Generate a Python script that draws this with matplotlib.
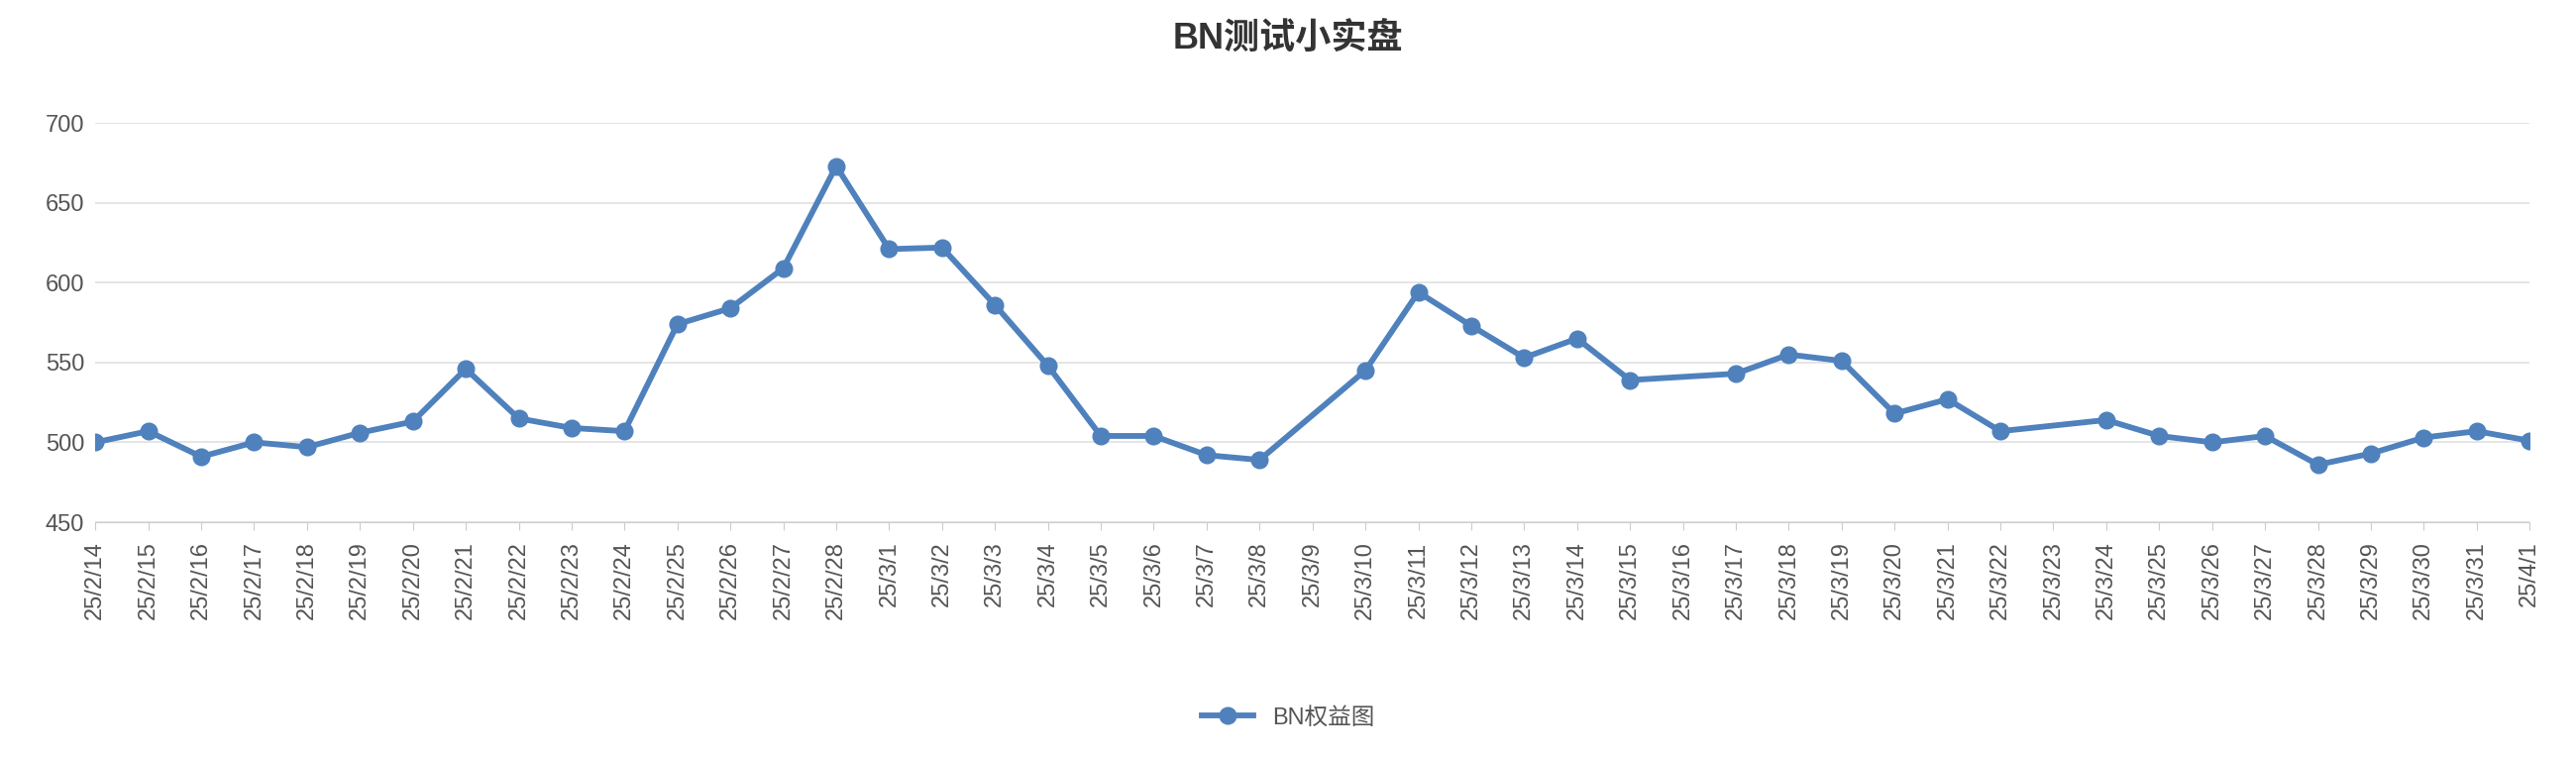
import numpy as np
import matplotlib.pyplot as plt

plt.rcParams['font.family'] = ['Liberation Sans', 'Noto Sans CJK SC', 'DejaVu Sans']

dates = ['25/2/14', '25/2/15', '25/2/16', '25/2/17', '25/2/18', '25/2/19', '25/2/20', '25/2/21',
         '25/2/22', '25/2/23', '25/2/24', '25/2/25', '25/2/26', '25/2/27', '25/2/28', '25/3/1',
         '25/3/2', '25/3/3', '25/3/4', '25/3/5', '25/3/6', '25/3/7', '25/3/8', '25/3/9',
         '25/3/10', '25/3/11', '25/3/12', '25/3/13', '25/3/14', '25/3/15', '25/3/16', '25/3/17',
         '25/3/18', '25/3/19', '25/3/20', '25/3/21', '25/3/22', '25/3/23', '25/3/24', '25/3/25',
         '25/3/26', '25/3/27', '25/3/28', '25/3/29', '25/3/30', '25/3/31', '25/4/1']
equity = [500, 507, 491, 500, 497, 506, 513, 546, 515, 509, 507, 574, 584, 609, 673, 621,
          622, 586, 548, 504, 504, 492, 489, None, 545, 594, 573, 553, 565, 539, None, 543,
          555, 551, 518, 527, 507, None, 514, 504, 500, 504, 486, 493, 503, 507, 501]
y_ticks = [450, 500, 550, 600, 650, 700]

x = np.arange(len(dates))
vals = np.array([np.nan if v is None else v for v in equity], dtype=float)
mask = ~np.isnan(vals)

fig = plt.figure(figsize=(26, 7.66), dpi=100)
ax = fig.add_axes([0.037, 0.312, 0.945, 0.526])

color = '#4f81bd'
ax.plot(x[mask], vals[mask], color=color, linewidth=4.2, marker='o', markersize=12,
        label='BN权益图', zorder=3)

ax.set_xlim(0, len(dates) - 1)
ax.set_ylim(450, 700)
ax.set_yticks(y_ticks)
ax.set_xticks(x)
ax.set_xticklabels(dates, rotation=90)
ax.tick_params(axis='both', labelsize=17, colors='#555555', length=0, pad=8)
ax.tick_params(axis='x', length=6, color='#cccccc')
ax.grid(axis='y', color='#e0e0e0', linewidth=1.2)
for s in ['top', 'right', 'left']:
    ax.spines[s].set_visible(False)
ax.spines['bottom'].set_color('#cccccc')

fig.suptitle('BN测试小实盘', fontsize=26, fontweight='bold', color='#333333', y=0.97)
fig.legend(loc='center', bbox_to_anchor=(0.5, 0.054), frameon=False, fontsize=17,
           labelcolor='#555555', handlelength=2.2)

plt.savefig('out.png')
